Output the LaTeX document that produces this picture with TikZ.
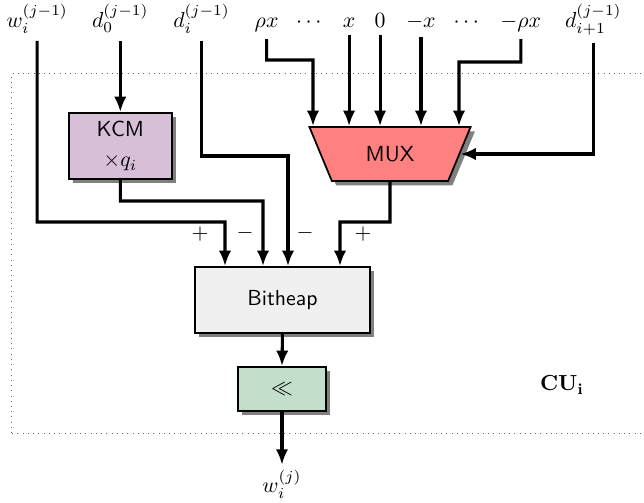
\documentclass[tikz,border=0pt]{standalone}
\usetikzlibrary{arrows.meta,shapes.geometric,shadows}
\definecolor{kcmcol}{RGB}{216,191,216}
\definecolor{muxcol}{RGB}{255,128,128}
\definecolor{heapcol}{RGB}{240,240,240}
\definecolor{shiftcol}{RGB}{193,223,203}
\tikzset{
  block/.style={draw=black,line width=0.8pt,font=\sffamily,align=center,
    drop shadow={shadow xshift=0.07cm,shadow yshift=-0.07cm,fill=black!50,opacity=1}},
  wire/.style={line width=1.4pt,>={Latex[length=2.5mm,width=2mm]},->},
}
\begin{document}
\begin{tikzpicture}[line join=miter]
\useasboundingbox (0,0) rectangle (10.387,8.097);
\draw[black!60,dotted] (0.19,1.113) rectangle (10.8,6.92);
\foreach \nm/\x/\lab in {win/0.6/w_i^{(j-1)},dzero/1.94/d_0^{(j-1)},di/3.25/d_i^{(j-1)},rx/4.3/\rho x,
  dotsa/4.98/\cdots,xp/5.63/x,zero/6.13/0,xm/6.79/-x,dotsb/7.52/\cdots,rxm/8.4/-\rho x,dinext/9.57/d_{i+1}^{(j-1)}}
\node[anchor=base] (\nm) at (\x,7.66) {$\lab$};
\node[block,fill=kcmcol,minimum width=1.66cm,minimum height=1.065cm] (kcm) at (1.94,5.742) {KCM\\[2pt]$\times q_i$};
\node[block,fill=muxcol,trapezium,shape border rotate=180,trapezium stretches=true,trapezium angle=68,
  minimum width=2.6cm,minimum height=0.87cm] (mux) at (6.29,5.613) {MUX};
\node[block,fill=heapcol,minimum width=2.82cm,minimum height=1.065cm] (heap) at (4.556,3.258) {Bitheap};
\node[block,fill=shiftcol,minimum width=1.42cm,minimum height=0.71cm] (shl) at (4.548,1.823) {$\ll$};
\node[anchor=north,inner sep=2pt] (wout) at (4.548,0.6) {$w_i^{(j)}$};
\node (cu) at (9.065,1.887) {$\mathbf{CU_i}$};
% mux inputs
\draw[wire] (rx.south) |- (5.048,7.129) -- ([xshift=-1.242cm]mux.north);
\foreach \nm in {xp,zero,xm}
\draw[wire] (\nm.south) -- (\nm.south |- mux.north);
\draw[wire] (rxm.south) |- (7.403,7.097) -- ([xshift=1.113cm]mux.north);
\draw[wire] (dinext.south) |- (mux.east);
\draw[wire] (dzero.south) -- (kcm.north);
% bitheap inputs
\draw[wire] (win.south) |- (3.629,4.516) -- ([xshift=-0.927cm]heap.north);
\draw[wire] (kcm.south) |- (4.242,4.855) -- ([xshift=-0.314cm]heap.north);
\draw[wire] (di.south) |- (4.645,5.581) -- ([xshift=0.089cm]heap.north);
\draw[wire] (mux.south) |- (5.484,4.516) -- ([xshift=0.928cm]heap.north);
\node (sa) at (3.226,4.323) {$+$};
\node (sb) at (3.952,4.339) {$-$};
\node (sc) at (4.919,4.339) {$-$};
\node (sd) at (5.855,4.323) {$+$};
% output
\draw[wire] (heap.south) -- (shl.north);
\draw[wire] (shl.south) -- (wout.north);
\end{tikzpicture}
\end{document}
